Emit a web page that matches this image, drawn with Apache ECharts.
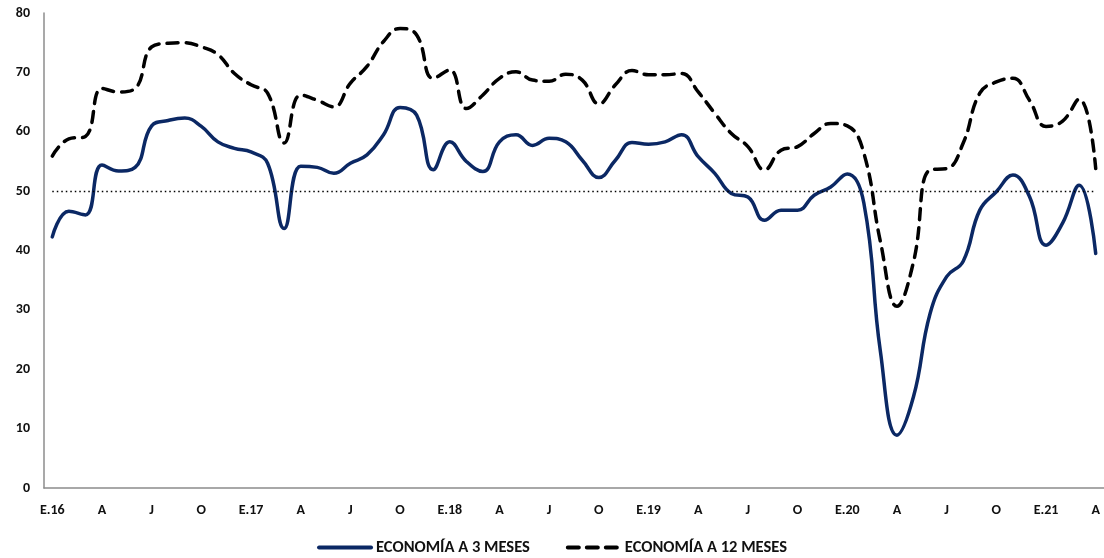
<!DOCTYPE html>
<html>
<head>
<meta charset="utf-8">
<script src="https://cdn.jsdelivr.net/npm/echarts@6/dist/echarts.min.js"></script>
<style>
html,body{margin:0;padding:0;background:#fff;}
#chart{width:1104px;height:558px;}
</style>
</head>
<body>
<div id="chart"></div>
<script>
// Monthly categories Jan-2016 .. Apr-2021
const categories = [
 '2016-01','2016-02','2016-03','2016-04','2016-05','2016-06','2016-07','2016-08','2016-09','2016-10','2016-11','2016-12',
 '2017-01','2017-02','2017-03','2017-04','2017-05','2017-06','2017-07','2017-08','2017-09','2017-10','2017-11','2017-12',
 '2018-01','2018-02','2018-03','2018-04','2018-05','2018-06','2018-07','2018-08','2018-09','2018-10','2018-11','2018-12',
 '2019-01','2019-02','2019-03','2019-04','2019-05','2019-06','2019-07','2019-08','2019-09','2019-10','2019-11','2019-12',
 '2020-01','2020-02','2020-03','2020-04','2020-05','2020-06','2020-07','2020-08','2020-09','2020-10','2020-11','2020-12',
 '2021-01','2021-02','2021-03','2021-04'
];
// Tick labels shown every third month
const tickLabels = ['E.16','A','J','O','E.17','A','J','O','E.18','A','J','O','E.19','A','J','O','E.20','A','J','O','E.21','A'];

const economia3 = [
 42.3,46.6,46.0,54.4,53.4,54.0,61.0,61.9,62.3,60.9,58.3,57.2,
 56.6,54.7,43.7,54.2,54.0,53.0,54.7,56.1,59.5,64.1,62.8,53.6,
 58.3,55.0,53.3,58.3,59.5,57.7,58.9,58.3,55.2,52.3,55.2,58.2,
 57.9,58.3,59.5,55.8,53.0,49.6,49.0,45.1,46.8,46.8,49.3,50.7,
 52.9,48.0,23.0,8.9,15.4,29.4,35.6,38.2,46.8,49.9,52.7,49.1,
 40.9,44.6,51.0,39.5
];
const economia12 = [
 55.9,58.8,59.2,67.3,66.7,67.3,74.3,74.9,75.0,74.3,73.0,69.8,
 67.9,66.5,58.1,66.2,65.3,64.2,68.2,71.0,75.2,77.4,76.3,69.0,
 70.4,63.9,66.2,69.0,70.1,68.7,68.5,69.7,68.7,64.7,67.9,70.3,
 69.6,69.6,69.8,66.7,63.1,59.7,57.5,53.6,56.9,57.5,59.7,61.4,
 61.0,56.4,41.5,30.6,38.1,53.6,53.8,58.1,66.5,68.4,69.0,65.3,
 60.9,61.8,65.5,53.8
];
const referenceLevel = 50;
const seriesNames = ['ECONOMÍA A 3 MESES','ECONOMÍA A 12 MESES'];

const FONT = 'Carlito, Lato, "Liberation Sans", sans-serif';
const chart = echarts.init(document.getElementById('chart'), null, {renderer:'canvas'});
chart.setOption({
  animation:false,
  backgroundColor:'#ffffff',
  grid:{left:44, top:13, bottom:70, width:1062, containLabel:false},
  legend:{
    data:seriesNames,
    bottom:-3,
    left:'center',
    itemWidth:52,
    itemHeight:14,
    itemGap:36,
    itemStyle:{opacity:0},
    lineStyle:{width:4},
    textStyle:{fontFamily:FONT, fontWeight:'bold', fontSize:16.5, color:'#111'}
  },
  xAxis:{
    type:'category',
    data:categories,
    boundaryGap:true,
    axisLine:{lineStyle:{color:'#8c8c8c', width:1.5}},
    axisTick:{show:false},
    axisLabel:{
      interval:2,
      margin:15,
      fontFamily:FONT, fontWeight:'bold', fontSize:14, color:'#111',
      formatter:function(v, i){ return i % 3 === 0 ? tickLabels[i/3] : ''; }
    },
    splitLine:{show:false}
  },
  yAxis:{
    type:'value',
    min:0, max:80, interval:10,
    axisLine:{show:true, lineStyle:{color:'#8c8c8c', width:1.5}},
    axisTick:{show:false},
    splitLine:{show:false},
    axisLabel:{margin:14, fontFamily:FONT, fontWeight:'bold', fontSize:14, color:'#111'}
  },
  series:[
    {
      name:seriesNames[0],
      type:'line',
      data:economia3,
      smooth:0.45,
      symbol:'none',
      lineStyle:{color:'#0b2864', width:3.5, cap:'round', join:'round'},
      itemStyle:{color:'#0b2864'},
      markLine:{
        silent:true,
        symbol:['none','none'],
        label:{show:false},
        lineStyle:{color:'#000', type:[1.5,3], width:1.3},
        data:[[{coord:[categories[0], referenceLevel]},{coord:[categories[categories.length-1], referenceLevel]}]]
      },
      z:3
    },
    {
      name:seriesNames[1],
      type:'line',
      data:economia12,
      smooth:0.45,
      symbol:'none',
      lineStyle:{color:'#000', width:3.5, type:[11,8], cap:'round', join:'round'},
      itemStyle:{color:'#000'},
      z:2
    }
  ]
});
</script>
</body>
</html>
